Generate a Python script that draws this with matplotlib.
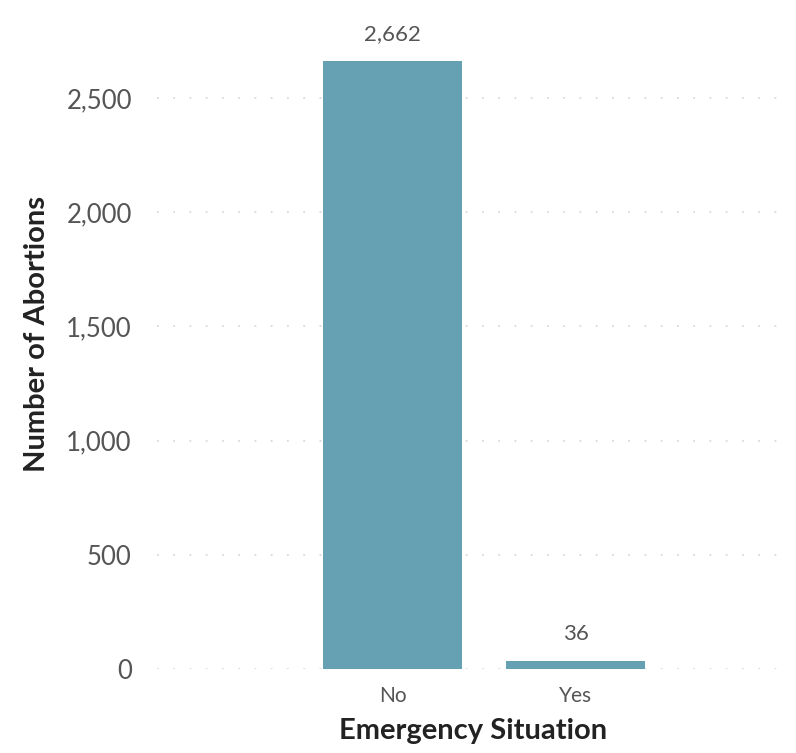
import matplotlib.pyplot as plt
from matplotlib.ticker import FuncFormatter

categories = ['No', 'Yes']
counts = [2662, 36]
yticks = [0, 500, 1000, 1500, 2000, 2500]

plt.rcParams['font.family'] = ['Lato', 'DejaVu Sans']

fig = plt.figure(figsize=(7.96, 7.53), dpi=100)
ax = fig.add_axes([0.197, 0.1116, 0.795, 0.8884])

x = list(range(len(categories)))
bars = ax.bar(x, counts, width=0.76, color='#66a0b3', zorder=2)
for b, v in zip(bars, counts):
    ax.annotate(f'{v:,}', (b.get_x() + b.get_width() / 2, v), xytext=(0, 12),
                textcoords='offset points', ha='center', va='bottom',
                fontsize=16, color='#555555')

ax.set_xlim(-1.29, 2.17)
ax.set_ylim(0, 2930)
ax.set_xticks(x)
ax.set_xticklabels(categories)
ax.set_yticks(yticks)
ax.yaxis.set_major_formatter(FuncFormatter(lambda v, p: f'{int(v):,}'))
ax.tick_params(axis='y', length=0, labelsize=18.5, labelcolor='#555555', pad=18)
ax.tick_params(axis='x', length=0, labelsize=15, labelcolor='#555555', pad=12)
ax.grid(axis='y', color='#d8d8e2', linestyle=(0, (1, 8)), linewidth=1.3, zorder=0)
for s in ax.spines.values():
    s.set_visible(False)

ax.set_xlabel('Emergency Situation', fontsize=21, fontweight='bold', color='#222222', labelpad=9)
ax.set_ylabel('Number of Abortions', fontsize=21, fontweight='bold', color='#222222', labelpad=12)

fig.savefig('out.png', dpi=100)
